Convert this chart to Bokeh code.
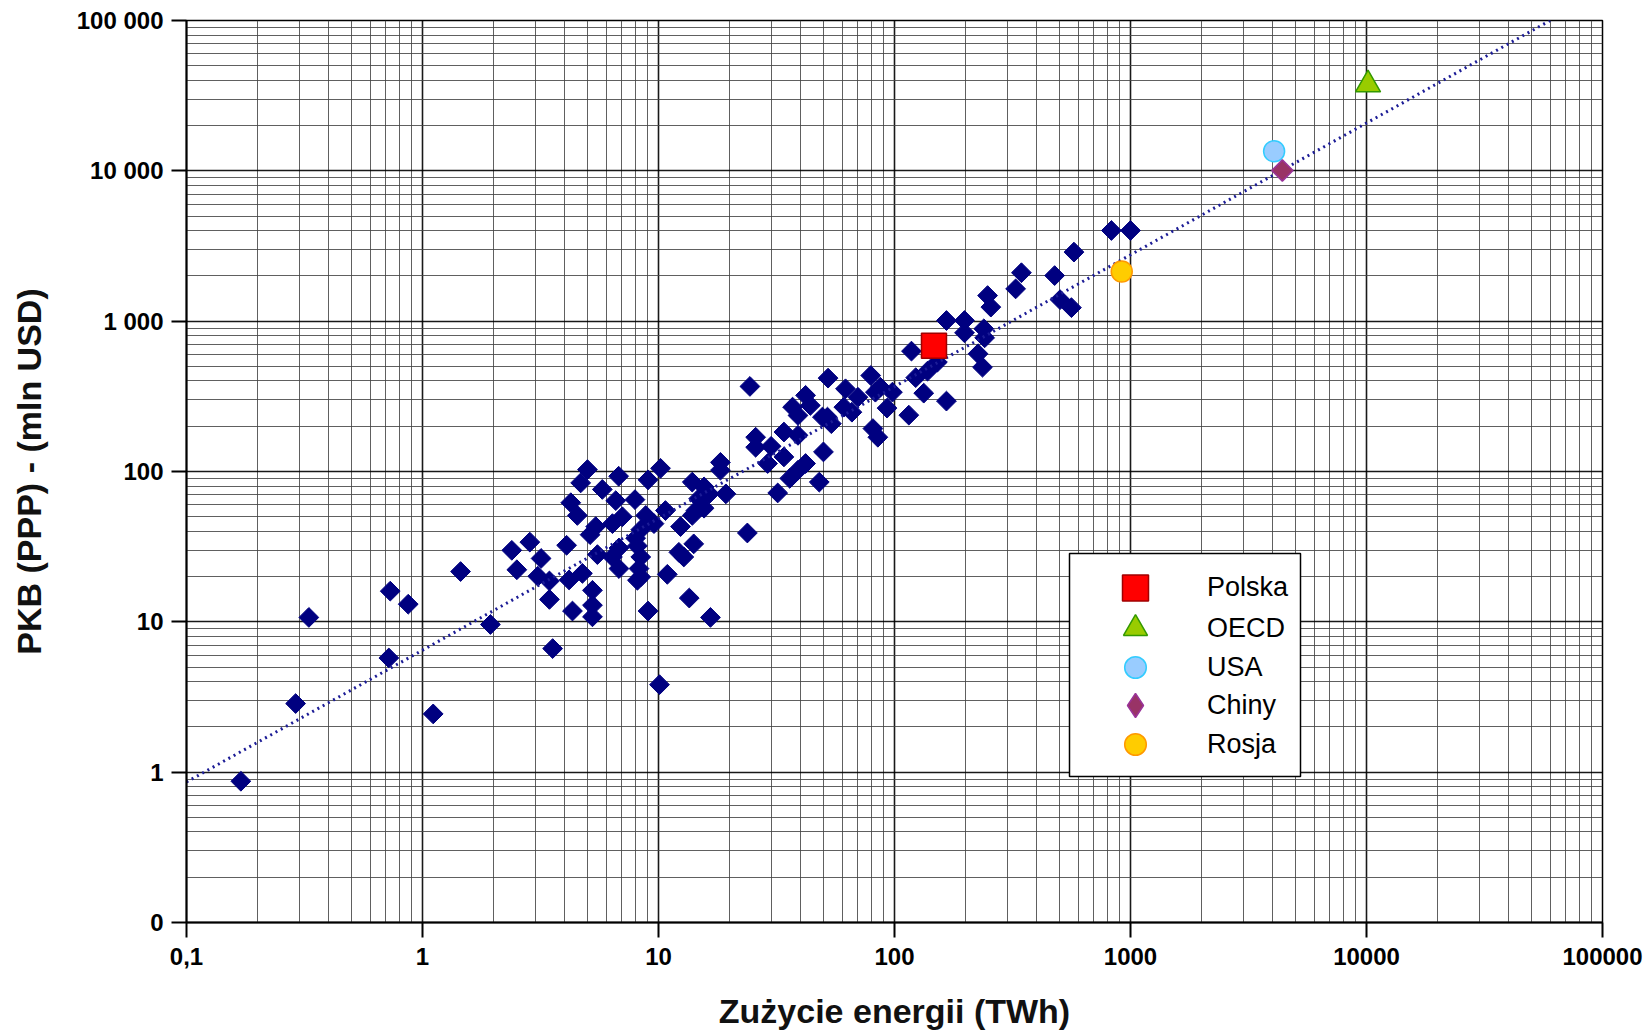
import math
from bokeh.plotting import figure
from bokeh.models import FixedTicker, Legend, LegendItem, Range1d, ColumnDataSource, BoxAnnotation
from bokeh.embed import file_html
from bokeh.resources import INLINE

# ---- data: countries (energy use in TWh, GDP PPP) ----
energy_twh = [
    0.17, 0.29, 0.33, 0.73, 0.72, 0.87, 1.11, 1.45, 1.94, 2.39, 2.85, 2.51, 3.18, 3.08, 3.45, 3.45, 3.56, 4.08,
    5.0, 4.68, 5.78, 6.78, 9.03, 10.2, 4.25, 4.53, 6.59, 7.95, 7.03, 6.38, 5.42, 5.13, 8.83, 9.57, 8.41, 8.0,
    10.7, 5.51, 6.38, 6.8, 8.14, 8.41, 6.8, 4.76, 4.18, 8.27, 8.41, 8.14, 10.9, 5.25, 5.25, 5.25, 4.32, 9.03,
    10.1, 13.9, 15.6, 14.8, 16.4, 19.3, 18.3, 18.3, 14.4, 15.6, 13.9, 12.4, 14.1, 12.2, 12.8, 13.5, 16.6, 23.8,
    25.8, 25.8,
    24.4, 52.3, 79.3, 118, 152, 138, 123, 133, 166, 115, 93, 87, 83, 98, 62, 70, 61, 66, 42, 44, 37, 39,
    52, 49.5, 54, 81, 85, 34, 39, 30, 34, 29, 50, 42, 39, 36, 48, 32,
    830, 1000, 576, 345, 477, 326, 248, 256, 503, 562, 166, 198, 198, 239, 241, 226, 236,
]
gdp_ppp = [
    0.87, 2.86, 10.7, 16.0, 5.75, 13.1, 2.44, 21.6, 9.6, 29.9, 33.9, 22.2, 26.4, 20.1, 18.7, 14.1, 6.64, 32.3,
    103, 84, 76, 93, 88, 105, 62, 51, 64, 65, 50, 45, 43, 38, 51, 45, 41, 36,
    55, 28, 27, 31, 32, 27, 22.6, 21, 19, 22.6, 19.9, 18.9, 20.7, 16.2, 12.9, 10.8, 11.8, 11.8,
    3.82, 85, 79, 66, 71, 71, 115, 102, 55, 57, 51, 43, 33, 29, 27, 14.4, 10.7, 39,
    169, 145,
    368, 418, 435, 632, 534, 465, 421, 332, 294, 237, 264, 364, 337, 337, 355, 312, 268, 248, 321, 275, 268, 236,
    230, 230, 208, 193, 169, 183, 174, 147, 125, 113, 135, 113, 102, 90, 85, 72,
    4010, 4010, 2880, 2100, 2010, 1640, 1480, 1240, 1390, 1230, 1010, 1010, 837, 890, 775, 607, 494,
]

# highlighted entities
hl_names = ["Polska", "OECD", "USA", "Chiny", "Rosja"]
hl_energy = [147, 10150, 4060, 4400, 918]
hl_gdp = [686, 37500, 13500, 10050, 2140]

# trend line end points
trend_energy = [0.1, 60000]
trend_gdp = [0.86, 100000]

# axes
x_ticks = [0.1, 1, 10, 100, 1000, 10000, 100000]
x_tick_labels = ["0,1", "1", "10", "100", "1000", "10000", "100000"]
y_ticks = [0.1, 1, 10, 100, 1000, 10000, 100000]
y_tick_labels = ["0", "1", "10", "100", "1 000", "10 000", "100 000"]
x_title = "Zużycie energii (TWh)"
y_title = "PKB (PPP) - (mln USD)"

# ---- styles ----
hl_styles = {
    "Polska": dict(marker="square", size=25, fill_color="#ff0000", line_color="#a00000", angle=0.0, leg_h=65),
    "OECD": dict(marker="triangle", size=25, fill_color="#99cc00", line_color="#339900", angle=0.0, leg_h=60),
    "USA": dict(marker="circle", size=21, fill_color="#99ccff", line_color="#33ccff", angle=0.0, leg_h=54),
    "Chiny": dict(marker="square", size=15, fill_color="#993366", line_color="#993399", angle=math.pi / 4, leg_h=60),
    "Rosja": dict(marker="circle", size=21, fill_color="#ffcc00", line_color="#ff9900", angle=0.0, leg_h=54),
}
FRAME_W, FRAME_H = 1416, 902
legend_row_y = [334, 294, 255, 217, 178]   # row centres, px above frame bottom
legend_glyph_x = 949                        # glyph centre, px from frame left
legend_glyph_w = 70

p = figure(width=1648, height=1035, x_axis_type="log", y_axis_type="log",
           x_range=Range1d(x_ticks[0], x_ticks[-1]), y_range=Range1d(y_ticks[0], y_ticks[-1]),
           output_backend="svg", toolbar_location=None,
           min_border_left=186, min_border_right=1648 - 186 - FRAME_W, min_border_top=20,
           min_border_bottom=1035 - 20 - FRAME_H)
p.outline_line_color = "black"
p.outline_line_width = 1.5
p.background_fill_color = "white"

x_minor = [m * t for t in x_ticks[:-1] for m in range(2, 10)]
y_minor = [m * t for t in y_ticks[:-1] for m in range(2, 10)]
p.xaxis.ticker = FixedTicker(ticks=x_ticks, minor_ticks=x_minor)
p.yaxis.ticker = FixedTicker(ticks=y_ticks, minor_ticks=y_minor)
p.xaxis.major_label_overrides = dict(zip(x_ticks, x_tick_labels))
p.yaxis.major_label_overrides = dict(zip(y_ticks, y_tick_labels))

for ax in (p.xaxis, p.yaxis):
    ax.axis_line_width = 2
    ax.axis_line_color = "black"
    ax.major_tick_in = 0
    ax.major_tick_out = 15
    ax.major_tick_line_width = 2
    ax.minor_tick_in = 0
    ax.minor_tick_out = 0
    ax.major_label_text_font = "Liberation Sans"
    ax.major_label_text_font_size = "24px"
    ax.major_label_text_font_style = "bold"
    ax.major_label_text_color = "black"
    ax.axis_label_text_font = "Liberation Sans"
    ax.axis_label_text_font_size = "34px"
    ax.axis_label_text_font_style = "bold"
    ax.axis_label_text_color = "#111111"

p.xaxis.axis_label = x_title
p.yaxis.axis_label = y_title
p.xaxis.major_label_standoff = 10
p.xaxis.axis_label_standoff = 24
p.yaxis.major_label_standoff = 8
p.yaxis.axis_label_standoff = 26

for g in (p.xgrid, p.ygrid):
    g.grid_line_color = "black"
    g.grid_line_width = 1.6
    g.grid_line_alpha = 0.9
    g.minor_grid_line_color = "#444444"
    g.minor_grid_line_width = 1
    g.minor_grid_line_alpha = 0.85

src = ColumnDataSource(dict(x=energy_twh, y=gdp_ppp))
p.scatter("x", "y", source=src, marker="square", size=14, angle=math.pi / 4,
          fill_color="#000080", line_color="#000080")

p.line(trend_energy, trend_gdp, line_color="#1c1c96", line_width=3, line_dash="2 4")

renderers = {}
for name, xv, yv in zip(hl_names, hl_energy, hl_gdp):
    st = hl_styles[name]
    r = p.scatter([xv], [yv], marker=st["marker"], size=st["size"], angle=st["angle"],
                  fill_color=st["fill_color"], line_color=st["line_color"], line_width=1.5)
    renderers[name] = r

# legend-only diamond for Chiny (legend markers are drawn without rotation)
ci = hl_names.index("Chiny")
chiny_leg = p.scatter([hl_energy[ci]], [hl_gdp[ci]], marker="diamond",
                      fill_color="#993366", line_color="#993399", line_width=1.5, visible=False)

# legend frame
box = BoxAnnotation(left=883, right=1114, bottom=146, top=369,
                    left_units="screen", right_units="screen", bottom_units="screen", top_units="screen",
                    fill_color="white", fill_alpha=1, line_color="black", line_width=1.5, line_alpha=1)
p.add_layout(box)

for name, cy in zip(hl_names, legend_row_y):
    st = hl_styles[name]
    r = chiny_leg if name == "Chiny" else renderers[name]
    h = st["leg_h"]
    leg = Legend(items=[LegendItem(label=name, renderers=[r])],
                 location=(legend_glyph_x - legend_glyph_w // 2, cy - h // 2),
                 padding=0, margin=0, glyph_width=legend_glyph_w, glyph_height=h, spacing=0,
                 label_standoff=37, border_line_alpha=0, background_fill_alpha=0,
                 label_text_font="Liberation Sans", label_text_font_size="27px",
                 label_text_color="black")
    p.add_layout(leg)

open("out.html", "w").write(file_html(p, INLINE))
